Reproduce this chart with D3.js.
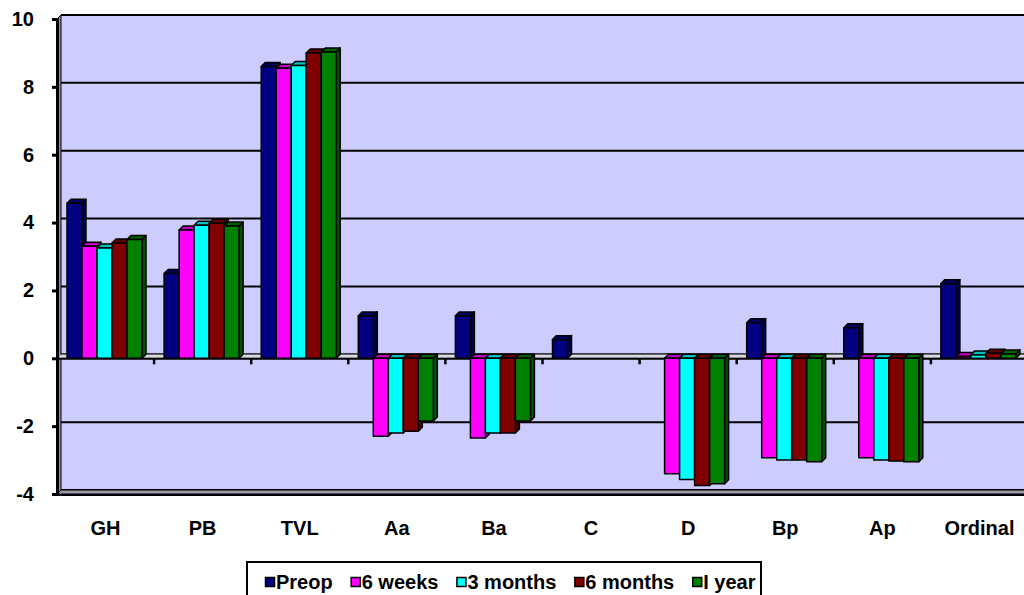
<!DOCTYPE html>
<html>
<head>
<meta charset="utf-8">
<script src="https://cdn.jsdelivr.net/npm/d3@7"></script>
<style>
  html, body { margin: 0; padding: 0; background: #fff; }
  svg { display: block; font-family: 'Liberation Sans', Arial, sans-serif; font-weight: bold; }
</style>
</head>
<body>
<svg width="1024" height="595"></svg>
<script>
const categories = ['GH', 'PB', 'TVL', 'Aa', 'Ba', 'C', 'D', 'Bp', 'Ap', 'Ordinal'];
const seriesNames = ['Preop', '6 weeks', '3 months', '6 months', 'I year'];
const seriesColors = ['#000080', '#FF00FF', '#00FFFF', '#800000', '#008000'];
const yTicks = [-4, -2, 0, 2, 4, 6, 8, 10];

const preop    = [4.57, 2.5, 8.6, 1.25, 1.25, 0.55, 0, 1.05, 0.9, 2.2];
const weeks6   = [3.3, 3.78, 8.55, -2.3, -2.35, 0, -3.4, -2.93, -2.93, 0.05];
const months3  = [3.25, 3.92, 8.63, -2.2, -2.2, 0, -3.57, -3.0, -3.0, 0.1];
const months6  = [3.4, 3.98, 9.0, -2.15, -2.2, 0, -3.75, -3.0, -3.03, 0.15];
const year1    = [3.5, 3.9, 9.03, -1.85, -1.85, 0, -3.7, -3.05, -3.05, 0.13];
const seriesValues = [preop, weeks6, months3, months6, year1];

const W = 1024, H = 595;
const left = 57, catW = 97.1;
const depth = 4;
const font = "'Liberation Sans', Arial, sans-serif";

const svg = d3.select('svg');

const y = d3.scaleLinear([-4, 10], [494, 19]);
const x = d3.scaleBand(categories, [left, left + catW * categories.length]);
const xs = d3.scaleBand(seriesNames, [10, 85]);

// back wall
svg.append('rect')
  .attr('x', left + depth)
  .attr('y', y(10) - depth)
  .attr('width', W - left)
  .attr('height', y(-4) - y(10))
  .attr('fill', '#CCCCFF');

// gridlines on back wall
svg.append('g')
  .selectAll('line')
  .data(yTicks)
  .join('line')
    .attr('x1', left + depth)
    .attr('x2', W)
    .attr('y1', (d) => y(d) - depth)
    .attr('y2', (d) => y(d) - depth)
    .attr('stroke', 'black')
    .attr('stroke-width', 2);

// left side wall
svg.append('polygon')
  .attr('points', [
    [left, y(10)], [left + depth, y(10) - depth],
    [left + depth, y(-4) - depth], [left, y(-4)]
  ].join(' '))
  .attr('fill', '#9090a8')
  .attr('stroke', 'black')
  .attr('stroke-width', 1);

// bottom floor edge
svg.append('polygon')
  .attr('points', [
    [left, y(-4)], [left + depth, y(-4) - depth],
    [W + depth, y(-4) - depth], [W, y(-4)]
  ].join(' '))
  .attr('fill', '#9a9aa6')
  .attr('stroke', 'black')
  .attr('stroke-width', 1);
svg.append('line')
  .attr('x1', left).attr('x2', W)
  .attr('y1', y(-4) + 1).attr('y2', y(-4) + 1)
  .attr('stroke', 'black').attr('stroke-width', 2);

// zero plane
svg.append('polygon')
  .attr('points', [
    [left, y(0)], [left + depth, y(0) - depth],
    [W + depth, y(0) - depth], [W, y(0)]
  ].join(' '))
  .attr('fill', '#d8d8e4')
  .attr('stroke', '#555')
  .attr('stroke-width', 1);
svg.append('line')
  .attr('x1', left).attr('x2', W)
  .attr('y1', y(0) + 0.5).attr('y2', y(0) + 0.5)
  .attr('stroke', 'black').attr('stroke-width', 2);

// category boundary ticks
svg.append('g')
  .selectAll('line')
  .data(categories.slice(1))
  .join('line')
    .attr('x1', (d) => x(d))
    .attr('x2', (d) => x(d))
    .attr('y1', y(0))
    .attr('y2', y(0) + 6)
    .attr('stroke', 'black')
    .attr('stroke-width', 2.5);

// bars
const bars = [];
categories.forEach((c, ci) => {
  seriesNames.forEach((s, si) => {
    const v = seriesValues[si][ci];
    if (v !== 0) bars.push({ c, s, si, v });
  });
});

const barG = svg.append('g');
bars.forEach((b) => {
  const x0 = x(b.c) + xs(b.s);
  const w = xs.bandwidth();
  const yTop = y(Math.max(b.v, 0));
  const yBot = y(Math.min(b.v, 0));
  const col = d3.color(seriesColors[b.si]);
  const g = barG.append('g')
    .attr('stroke', 'black')
    .attr('stroke-width', 1.5)
    .attr('stroke-linejoin', 'round');
  g.append('polygon')
    .attr('points', [
      [x0 + w, yTop], [x0 + w + depth, yTop - depth],
      [x0 + w + depth, yBot - depth], [x0 + w, yBot]
    ].join(' '))
    .attr('fill', col.darker(1.3));
  g.append('polygon')
    .attr('points', [
      [x0, yTop], [x0 + depth, yTop - depth],
      [x0 + w + depth, yTop - depth], [x0 + w, yTop]
    ].join(' '))
    .attr('fill', col.darker(0.8));
  g.append('rect')
    .attr('x', x0)
    .attr('y', yTop)
    .attr('width', w)
    .attr('height', yBot - yTop)
    .attr('fill', col);
});

// y axis
const yAxis = d3.axisLeft(y)
  .tickValues(yTicks)
  .tickFormat((d) => String(d))
  .tickSize(5)
  .tickPadding(18);
const yg = svg.append('g')
  .attr('transform', `translate(${left}, 0)`)
  .call(yAxis);
yg.select('.domain').attr('stroke-width', 3);
yg.selectAll('.tick line').attr('stroke-width', 3);
yg.selectAll('text')
  .style('font-family', font)
  .style('font-weight', 'bold')
  .style('font-size', '20px')
  .attr('fill', 'black');

// x axis labels
const xAxis = d3.axisBottom(x).tickSize(0).tickPadding(27);
const xg = svg.append('g')
  .attr('transform', `translate(0, ${y(-4)})`)
  .call(xAxis);
xg.select('.domain').remove();
xg.selectAll('text')
  .style('font-family', font)
  .style('font-weight', 'bold')
  .style('font-size', '20px')
  .attr('fill', 'black');

// legend
svg.append('rect')
  .attr('x', 247)
  .attr('y', 562)
  .attr('width', 514)
  .attr('height', 40)
  .attr('fill', 'white')
  .attr('stroke', 'black')
  .attr('stroke-width', 2);

const legend = svg.append('g');
let lx = 265;
seriesNames.forEach((s, i) => {
  const item = legend.append('g').attr('transform', `translate(${lx}, 0)`);
  item.append('rect')
    .attr('x', 0.5)
    .attr('y', 577.5)
    .attr('width', 9)
    .attr('height', 9)
    .attr('fill', seriesColors[i])
    .attr('stroke', 'black')
    .attr('stroke-width', 1.5);
  const t = item.append('text')
    .attr('x', 11)
    .attr('y', 589)
    .style('font-size', '20px')
    .text(s);
  lx += 11 + t.node().getComputedTextLength() + 18;
});
</script>
</body>
</html>
